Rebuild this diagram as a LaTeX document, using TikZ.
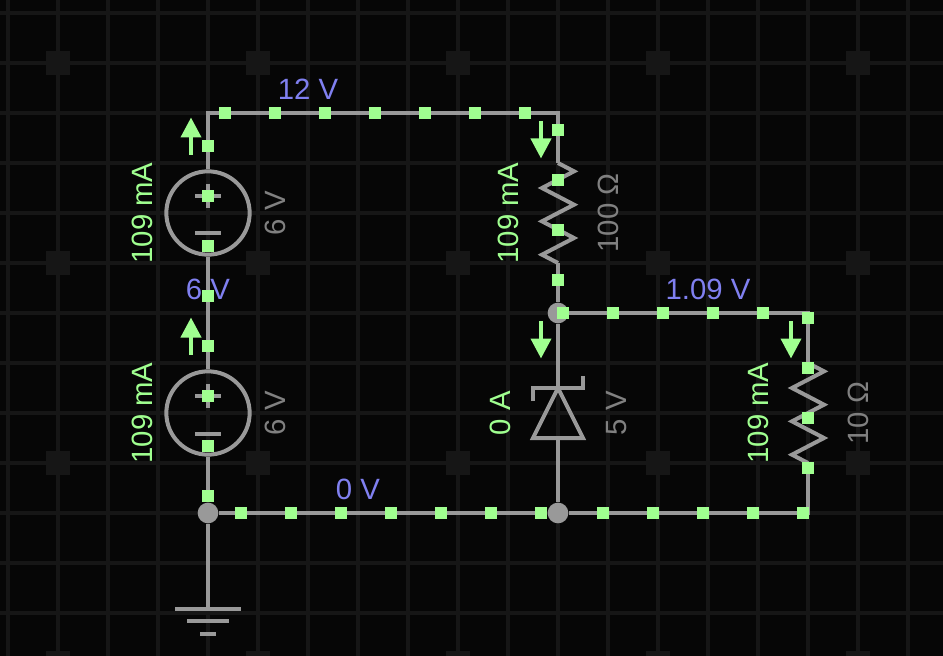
\documentclass[tikz,border=0pt]{standalone}
\usepackage{fontspec}
\setmainfont{Liberation Sans}
\usetikzlibrary{arrows.meta}
\definecolor{bgc}{HTML}{060606}
\definecolor{gridc}{HTML}{161616}
\definecolor{wirec}{HTML}{999999}
\definecolor{greenc}{HTML}{A0FF90}
\definecolor{voltc}{HTML}{8080F0}
\definecolor{valc}{HTML}{808080}
\tikzset{
  gridline/.style={gridc,line width=3pt},
  gridpost/.style={fill=gridc,draw=none,minimum size=18pt,inner sep=0pt,shape=rectangle},
  wire/.style={wirec,line width=3pt},
  sym/.style={wirec,line width=3pt},
  junction/.style={circle,fill=wirec,draw=none,minimum size=15.5pt,inner sep=0pt},
  dot/.style={fill=greenc,draw=none,minimum size=8.6pt,inner sep=0pt,shape=rectangle},
  source/.style={circle,draw=wirec,line width=3pt,minimum size=62.5pt,inner sep=0pt},
  volt/.style={text=voltc,font=\fontsize{22}{22}\selectfont,inner sep=0pt},
  amp/.style={text=greenc,font=\fontsize{22}{22}\selectfont,inner sep=0pt,rotate=90},
  val/.style={text=valc,font=\fontsize{22}{22}\selectfont,inner sep=0pt,rotate=90},
  flow/.style={greenc,line width=3pt,-{Triangle[length=15pt,width=15pt]}}
}
\begin{document}
\begin{tikzpicture}[x=0.75pt,y=-0.75pt]
\useasboundingbox (0,0) rectangle (943,656);
\fill[bgc] (0,0) rectangle (943,656);
\foreach \x in {8,58,...,908} \draw[gridline] (\x,0) -- (\x,656);
\foreach \y in {13,63,...,613} \draw[gridline] (0,\y) -- (943,\y);
\foreach \x in {58,258,458,658,858} \foreach \y in {63,263,463,663} \node[gridpost] at (\x,\y) {};
% anchors
\coordinate (tl) at (208,113);
\coordinate (tr) at (558,113);
\coordinate (rtop) at (558,163);
\coordinate (rbot) at (558,263);
\node[junction] (jm) at (558,313) {};
\coordinate (c1) at (808,313);
\coordinate (r2top) at (808,363);
\coordinate (r2bot) at (808,463);
\coordinate (c2) at (808,513);
\node[junction] (jb) at (558,513) {};
\node[junction] (jl) at (208,513) {};
\coordinate (gnd) at (208,608);
\node[source] (s1) at (208,213) {};
\node[source] (s2) at (208,413) {};
\coordinate (zk) at (558,388);
\coordinate (za) at (558,438);
% wires
\draw[wire,line join=miter] (s1) -- (tl) -- (tr) -- (rtop);
\draw[wire] (rbot) -- (jm);
\draw[wire,line join=miter] (jm.center) -- (c1) -- (r2top);
\draw[wire,line join=miter] (r2bot) -- (c2) -- (jb);
\draw[wire] (jb) -- (jl);
\draw[wire] (s1) -- (s2);
\draw[wire] (s2) -- (jl);
\draw[wire] (jl) -- (gnd);
\draw[wire] (jm) -- (zk);
\draw[wire] (za) -- (jb);
% resistors
\draw[sym,line join=miter] (rtop) -- ++(16,8.33) -- ++(-32,16.67) -- ++(32,16.67) -- ++(-32,16.67) -- ++(32,16.67) -- ++(-32,16.67) -- (rbot);
\draw[sym,line join=miter] (r2top) -- ++(16,8.33) -- ++(-32,16.67) -- ++(32,16.67) -- ++(-32,16.67) -- ++(32,16.67) -- ++(-32,16.67) -- (r2bot);
% zener
\draw[sym,line join=miter] (zk) -- (533,438) -- (583,438) -- cycle;
\draw[sym,line join=miter] (533,401) -- (533,388) -- (583,388) -- (583,376);
% source marks
\foreach \y in {196,396} {\draw[sym] (195,\y) -- (221,\y); \draw[sym] (208,\y-12) -- (208,\y+12);}
\draw[sym] (195,233.5) -- (221,233.5);
\draw[sym] (195,433.5) -- (221,433.5);
% ground
\coordinate (g1a) at (175,608.5); \coordinate (g1b) at (241,608.5);
\coordinate (g2a) at (187,621); \coordinate (g2b) at (229,621);
\coordinate (g3a) at (200,633.5); \coordinate (g3b) at (216,633.5);
\draw[sym] (g1a) -- (g1b);
\draw[sym] (g2a) -- (g2b);
\draw[sym] (g3a) -- (g3b);
% flow arrows
\coordinate (a1s) at (191,155); \coordinate (a1e) at (191,117.5);
\coordinate (a2s) at (191,355); \coordinate (a2e) at (191,317.5);
\coordinate (a3s) at (541,121); \coordinate (a3e) at (541,158.5);
\coordinate (a4s) at (541,321); \coordinate (a4e) at (541,358.5);
\coordinate (a5s) at (791,321); \coordinate (a5e) at (791,358.5);
\draw[flow] (a1s) -- (a1e);
\draw[flow] (a2s) -- (a2e);
\draw[flow] (a3s) -- (a3e);
\draw[flow] (a4s) -- (a4e);
\draw[flow] (a5s) -- (a5e);
% current dots
\foreach \x in {225,275,...,525} \node[dot] at (\x,113) {};
\foreach \y in {130,180,230,280} \node[dot] at (558,\y) {};
\foreach \x in {563,613,...,763} \node[dot] at (\x,313) {};
\foreach \y in {318,368,418,468} \node[dot] at (808,\y) {};
\foreach \x in {603,653,...,803} \node[dot] at (\x,513) {};
\foreach \x in {241,291,...,541} \node[dot] at (\x,513) {};
\foreach \y in {146,196,...,496} \node[dot] at (208,\y) {};
% labels
\node[volt] (v12) at (308,89) {12 V};
\node[volt] (v6) at (208,289) {6 V};
\node[volt] (v0) at (358,489) {0 V};
\node[volt] (v1) at (708,289) {1.09 V};
\node[amp] (i1) at (142,213) {109 mA};
\node[amp] (i2) at (142,413) {109 mA};
\node[amp] (i3) at (508,213) {109 mA};
\node[amp] (i4) at (500,413) {0 A};
\node[amp] (i5) at (758,413) {109 mA};
\node[val] (u1) at (275,213) {6 V};
\node[val] (u2) at (275,413) {6 V};
\node[val] (u3) at (608,213) {100 Ω};
\node[val] (u4) at (617,413) {5 V};
\node[val] (u5) at (858,413) {10 Ω};
\end{tikzpicture}
\end{document}
